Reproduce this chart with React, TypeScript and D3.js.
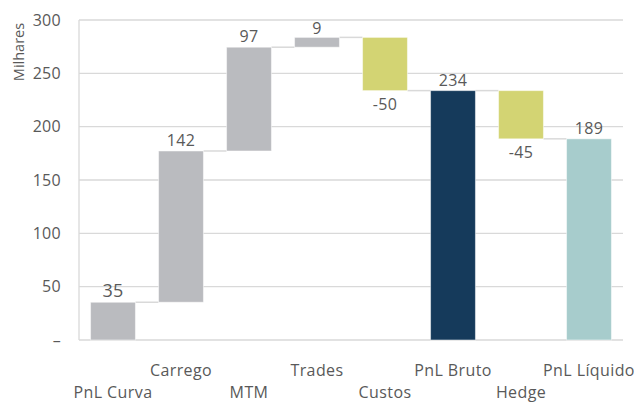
import React from "react";
import * as d3 from "d3";

const categories = ["PnL Curva", "Carrego", "MTM", "Trades", "Custos", "PnL Bruto", "Hedge", "PnL Líquido"];
const deltas = [35.4, 141.8, 97.3, 9.2, -49.9, 0, -45.2, 0];
const isTotal = [false, false, false, false, false, true, false, true];
const yTicks = [0, 50, 100, 150, 200, 250, 300];

const W = 634, H = 403;
const M = { left: 79, right: 11, top: 20, bottom: 63 };

export default function App() {
  const x = d3.scaleBand<string>().domain(categories).range([M.left, W - M.right]).paddingInner(0.34).paddingOuter(0.17);
  const y = d3.scaleLinear().domain([0, 300]).range([H - M.bottom, M.top]);

  let cum = 0;
  const bars = categories.map((c, i) => {
    let start: number, end: number;
    if (isTotal[i]) {
      start = 0; end = cum;
    } else {
      start = cum; end = cum + deltas[i]; cum = end;
    }
    const value = isTotal[i] ? end : deltas[i];
    let color = "#babbbf";
    if (isTotal[i]) color = i === 5 ? "#153a5b" : "#a7cccc";
    else if (deltas[i] < 0) color = "#d3d473";
    return { c, i, start, end, value, color, level: end };
  });

  const font = "'Open Sans', sans-serif";
  const txt = "#595959";
  const bw = x.bandwidth();

  return (
    <svg width={W} height={H} style={{ position: "absolute", left: 0, top: 0 }} fontFamily={font}>
      {yTicks.map((t) => (
        <g key={t}>
          <line x1={M.left} x2={W - M.right} y1={y(t)} y2={y(t)} stroke="#d9d9d9" strokeWidth={1.3} />
          <text x={61} y={y(t)} dy="0.36em" textAnchor="end" fontSize={16} letterSpacing={0.3} fill={txt}>
            {t === 0 ? "–" : t}
          </text>
        </g>
      ))}
      <line x1={M.left} x2={M.left} y1={y(300)} y2={y(0)} stroke="#d9d9d9" strokeWidth={1.3} />
      <text transform={`translate(19,52) rotate(-90)`} textAnchor="middle" dy="0.35em" fontSize={14.5} fill={txt}>
        Milhares
      </text>
      {bars.slice(0, -1).map((b, k) => {
        const nx = x(categories[k + 1])!;
        return (
          <line key={"c" + k} x1={x(b.c)! + bw} x2={nx} y1={y(b.level)} y2={y(b.level)} stroke="#d9d9d9" strokeWidth={1.5} />
        );
      })}
      {bars.map((b) => {
        const top = y(Math.max(b.start, b.end));
        const bot = y(Math.min(b.start, b.end));
        const cx = x(b.c)! + bw / 2;
        const neg = b.value < 0;
        return (
          <g key={b.c}>
            <rect x={x(b.c)} y={top} width={bw} height={bot - top} fill={b.color} stroke="#ffffff" strokeOpacity={0.5} strokeWidth={1} />
            <text x={cx} y={neg ? bot + 19 : top - (b.i === 3 ? 3 : 5)} textAnchor="middle" fontSize={b.i === 0 ? 18 : 16} letterSpacing={0.3} fill={txt}>
              {Math.round(b.value)}
            </text>
            <text x={cx} y={b.i % 2 === 0 ? 397.5 : 376} textAnchor="middle" fontSize={16} letterSpacing={0.4} fill={txt}>
              {b.c}
            </text>
          </g>
        );
      })}
    </svg>
  );
}
